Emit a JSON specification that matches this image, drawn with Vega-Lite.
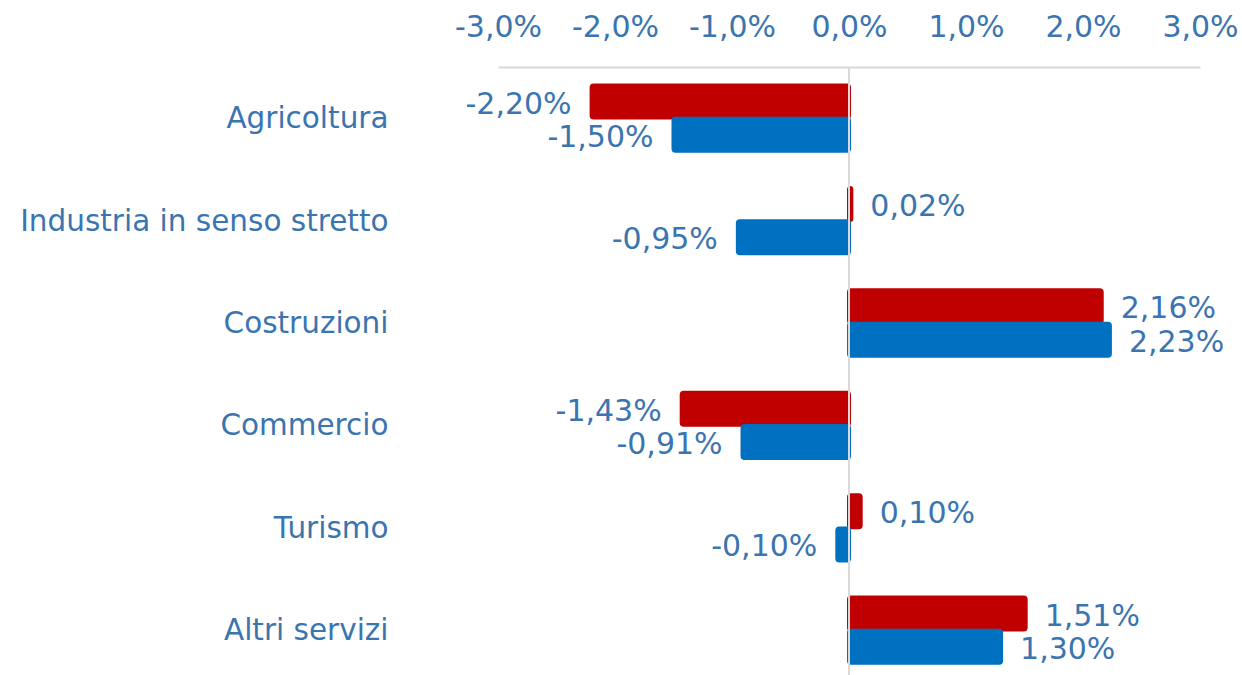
{
  "$schema": "https://vega.github.io/schema/vega-lite/v6.json",
  "width": 702,
  "height": 614.4,
  "autosize": {"type": "none"},
  "padding": {"left": 498, "top": 67, "right": 42, "bottom": 0},
  "background": "white",
  "config": {
    "view": {"stroke": null},
    "font": "DejaVu Sans",
    "locale": {"number": {"decimal": ",", "thousands": ".", "grouping": [3], "currency": ["", " €"], "minus": "-"}}
  },
  "data": {
    "values": [
      {"settore": "Agricoltura", "serie": "Serie 1", "valore": -0.0220},
      {"settore": "Agricoltura", "serie": "Serie 2", "valore": -0.0150},
      {"settore": "Industria in senso stretto", "serie": "Serie 1", "valore": 0.0002},
      {"settore": "Industria in senso stretto", "serie": "Serie 2", "valore": -0.0095},
      {"settore": "Costruzioni", "serie": "Serie 1", "valore": 0.0216},
      {"settore": "Costruzioni", "serie": "Serie 2", "valore": 0.0223},
      {"settore": "Commercio", "serie": "Serie 1", "valore": -0.0143},
      {"settore": "Commercio", "serie": "Serie 2", "valore": -0.0091},
      {"settore": "Turismo", "serie": "Serie 1", "valore": 0.0010},
      {"settore": "Turismo", "serie": "Serie 2", "valore": -0.0010},
      {"settore": "Altri servizi", "serie": "Serie 1", "valore": 0.0151},
      {"settore": "Altri servizi", "serie": "Serie 2", "valore": 0.0130}
    ]
  },
  "encoding": {
    "y": {
      "field": "settore",
      "type": "nominal",
      "sort": null,
      "scale": {"paddingInner": 0.35, "paddingOuter": 0.175},
      "axis": {
        "title": null,
        "domain": false,
        "ticks": false,
        "tickSize": 0,
        "labelPadding": 110,
        "labelFontSize": 29.5,
        "labelColor": "#3B75AF",
        "labelLimit": 600,
        "labelFont": "DejaVu Sans",
        "labelOffset": 1
      }
    },
    "yOffset": {"field": "serie", "type": "nominal", "sort": ["Serie 1", "Serie 2"]},
    "x": {
      "field": "valore",
      "type": "quantitative",
      "scale": {"domain": [-0.03, 0.03], "nice": false, "zero": false},
      "axis": {
        "orient": "top",
        "title": null,
        "values": [-0.03, -0.02, -0.01, 0, 0.01, 0.02, 0.03],
        "format": ".1%",
        "grid": false,
        "ticks": false,
        "tickSize": 0,
        "domainColor": "#D9D9D9",
        "domainWidth": 2,
        "labelPadding": 24,
        "labelFontSize": 30,
        "labelColor": "#3B75AF",
        "labelFont": "DejaVu Sans",
        "labelFlush": false
      }
    }
  },
  "layer": [
    {
      "mark": {"type": "bar", "height": 32, "strokeWidth": 4, "strokeJoin": "round", "cornerRadius": 2},
      "encoding": {
        "color": {"field": "serie", "type": "nominal", "scale": {"domain": ["Serie 1", "Serie 2"], "range": ["#C00000", "#0070C0"]}, "legend": null},
        "stroke": {"field": "serie", "type": "nominal", "scale": {"domain": ["Serie 1", "Serie 2"], "range": ["#C00000", "#0070C0"]}, "legend": null}
      }
    },
    {
      "transform": [{"filter": "datum.valore < 0"}],
      "mark": {"type": "text", "align": "right", "baseline": "middle", "dx": -20, "dy": 3, "fontSize": 30, "color": "#3B75AF", "font": "DejaVu Sans"},
      "encoding": {"text": {"field": "valore", "type": "quantitative", "format": ".2%"}}
    },
    {
      "transform": [{"filter": "datum.valore >= 0"}],
      "mark": {"type": "text", "align": "left", "baseline": "middle", "dx": 19, "dy": 3, "fontSize": 30, "color": "#3B75AF", "font": "DejaVu Sans"},
      "encoding": {"text": {"field": "valore", "type": "quantitative", "format": ".2%"}}
    },
    {
      "mark": {"type": "rule", "color": "#D9D9D9", "strokeWidth": 2},
      "encoding": {"x": {"datum": 0}, "y": null, "yOffset": null}
    }
  ]
}
